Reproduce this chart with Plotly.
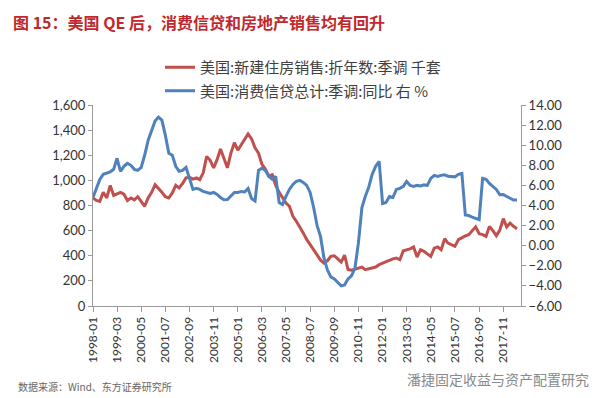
import pandas as pd
import plotly.graph_objects as go

# bi-monthly observations, 1998-01 .. 2018-07
dates = pd.date_range("1998-01-01", periods=124, freq="2MS")

home_sales = [
    860, 840, 833, 905, 860, 960, 880, 890, 905, 890,
    840, 860, 845, 870, 833, 794, 860, 905, 966, 940,
    905, 870, 860, 900, 960, 940, 975, 1020, 1025, 1010,
    1020, 1006, 1060, 1191, 1160, 1100, 1165, 1250, 1180, 1100,
    1217, 1300, 1240, 1280, 1320, 1370, 1330, 1260, 1217, 1130,
    1090, 1035, 1045, 960, 905, 860, 820, 794, 714, 674,
    621, 581, 530, 488, 448, 400, 365, 342, 360, 395,
    400, 375, 350, 405, 290, 285, 292, 302, 310, 289,
    298, 302, 310, 329, 342, 355, 368, 375, 382, 368,
    440, 448, 455, 470, 390, 448, 435, 415, 395, 460,
    470, 448, 535, 501, 490, 475, 528, 545, 558, 568,
    595, 630, 575, 568, 554, 634, 600, 560, 605, 695,
    630, 660, 634, 615,
]

credit_yoy = [
    4.8, 5.8, 6.6, 7.1, 7.23, 7.35, 7.6, 8.7, 7.4, 7.9,
    8.2, 8.0, 7.6, 7.5, 7.8, 9.0, 10.5, 11.5, 12.4, 12.8,
    12.5, 11.0, 9.2, 9.0, 7.9, 7.4, 7.5, 7.8, 6.6, 5.6,
    5.7, 5.6, 5.4, 5.3, 5.2, 5.3, 5.1, 4.8, 4.58, 4.6,
    5.0, 5.3, 5.3, 5.4, 5.35, 5.7, 4.7, 4.45, 7.5, 7.7,
    7.5, 6.9, 6.6, 6.9, 4.3, 4.1, 4.9, 5.6, 6.1, 6.4,
    6.5, 6.3, 6.0, 5.3, 3.8, 2.0, 0.9, -1.2, -2.4, -3.1,
    -3.3, -3.7, -4.0, -3.9, -3.3, -3.0, -2.2, 0.3, 3.8, 4.9,
    5.8, 7.1, 7.9, 8.4, 4.2, 4.3, 4.9, 4.8, 5.6, 5.7,
    5.9, 6.4, 6.0, 5.9, 6.0, 5.95, 6.05, 6.0, 6.7, 7.0,
    6.9, 7.0, 7.05, 6.9, 6.85, 6.85, 7.1, 7.2, 3.05, 3.0,
    2.85, 2.7, 2.6, 6.7, 6.6, 6.2, 5.9, 5.6, 5.07, 5.1,
    4.9, 4.7, 4.55, 4.55,
]

name_sales = "美国:新建住房销售:折年数:季调 千套"
name_credit = "美国:消费信贷总计:季调:同比 右 %"
title_text = "图 15：美国 QE 后，消费信贷和房地产销售均有回升"
source_text = "数据来源：Wind、东方证券研究所"
watermark_text = "潘捷固定收益与资产配置研究"

RED = "#C0504D"
BLUE = "#4F81BD"
W, H = 600, 398
L, R, T, B = 85, 87, 97, 100
PW, PH = W - L - R, H - T - B


def px(x):
    return (x - L) / PW


def py(y):
    return (H - B - y) / PH


fig = go.Figure()
fig.add_trace(go.Scatter(x=dates, y=home_sales, name=name_sales, mode="lines",
                         line=dict(color=RED, width=3), legendgroup="a"))
fig.add_trace(go.Scatter(x=dates, y=credit_yoy, name=name_credit, mode="lines",
                         line=dict(color=BLUE, width=3), yaxis="y2", legendgroup="b"))

axis_font = dict(family="Lato, Open Sans, sans-serif", size=13, color="#333333")
fig.update_layout(
    width=W, height=H,
    margin=dict(l=L, r=R, t=T, b=B),
    paper_bgcolor="white", plot_bgcolor="white",
    title=dict(text="<b>" + title_text + "</b>", xref="container", yref="container",
               x=5 / W, y=1 - 15 / H, xanchor="left", yanchor="middle",
               font=dict(family="Noto Sans CJK SC", size=16, color="#C0282D")),
    xaxis=dict(type="date", range=["1998-01-01", "2018-09-10"],
               tick0="1998-01-01", dtick="M14", tickformat="%Y-%m",
               tickangle=-90, showgrid=False, zeroline=False,
               showline=True, linecolor="#9a9a9a", linewidth=1,
               ticks="outside", ticklen=5, tickcolor="#9a9a9a",
               tickfont=dict(family="Lato, Open Sans, sans-serif", size=12, color="#333333")),
    yaxis=dict(range=[0, 1600], dtick=200, tickformat=",", showgrid=False,
               zeroline=False, showline=True, linecolor="#9a9a9a", linewidth=1,
               ticks="outside", ticklen=4, tickcolor="#9a9a9a", tickfont=axis_font),
    yaxis2=dict(range=[-6, 14], dtick=2, tickformat=".2f", overlaying="y", side="right",
                showgrid=False, zeroline=False, showline=True, linecolor="#9a9a9a",
                linewidth=1, ticks="outside", ticklen=4, tickcolor="#9a9a9a",
                tickfont=axis_font),
    legend=dict(x=px(152), y=py(43), xanchor="left", yanchor="top",
                bgcolor="rgba(0,0,0,0)", tracegroupgap=1,
                font=dict(family="Noto Sans CJK SC", size=15, color="#404040")),
    showlegend=True,
)

fig.add_annotation(text=source_text, xref="paper", yref="paper", x=px(8), y=py(378),
                   xanchor="left", yanchor="middle", showarrow=False,
                   font=dict(family="Noto Sans CJK SC", size=10, color="#666666"))
fig.add_annotation(text=watermark_text, xref="paper", yref="paper", x=px(583), y=py(371),
                   xanchor="right", yanchor="middle", showarrow=False,
                   font=dict(family="Noto Sans CJK SC", size=14, color="#8a8a8a"))
fig.add_shape(type="line", xref="paper", yref="paper", x0=px(0), x1=px(600),
              y0=py(394), y1=py(394), line=dict(color="#8B1A1A", width=2))

fig.write_html("out.html")
